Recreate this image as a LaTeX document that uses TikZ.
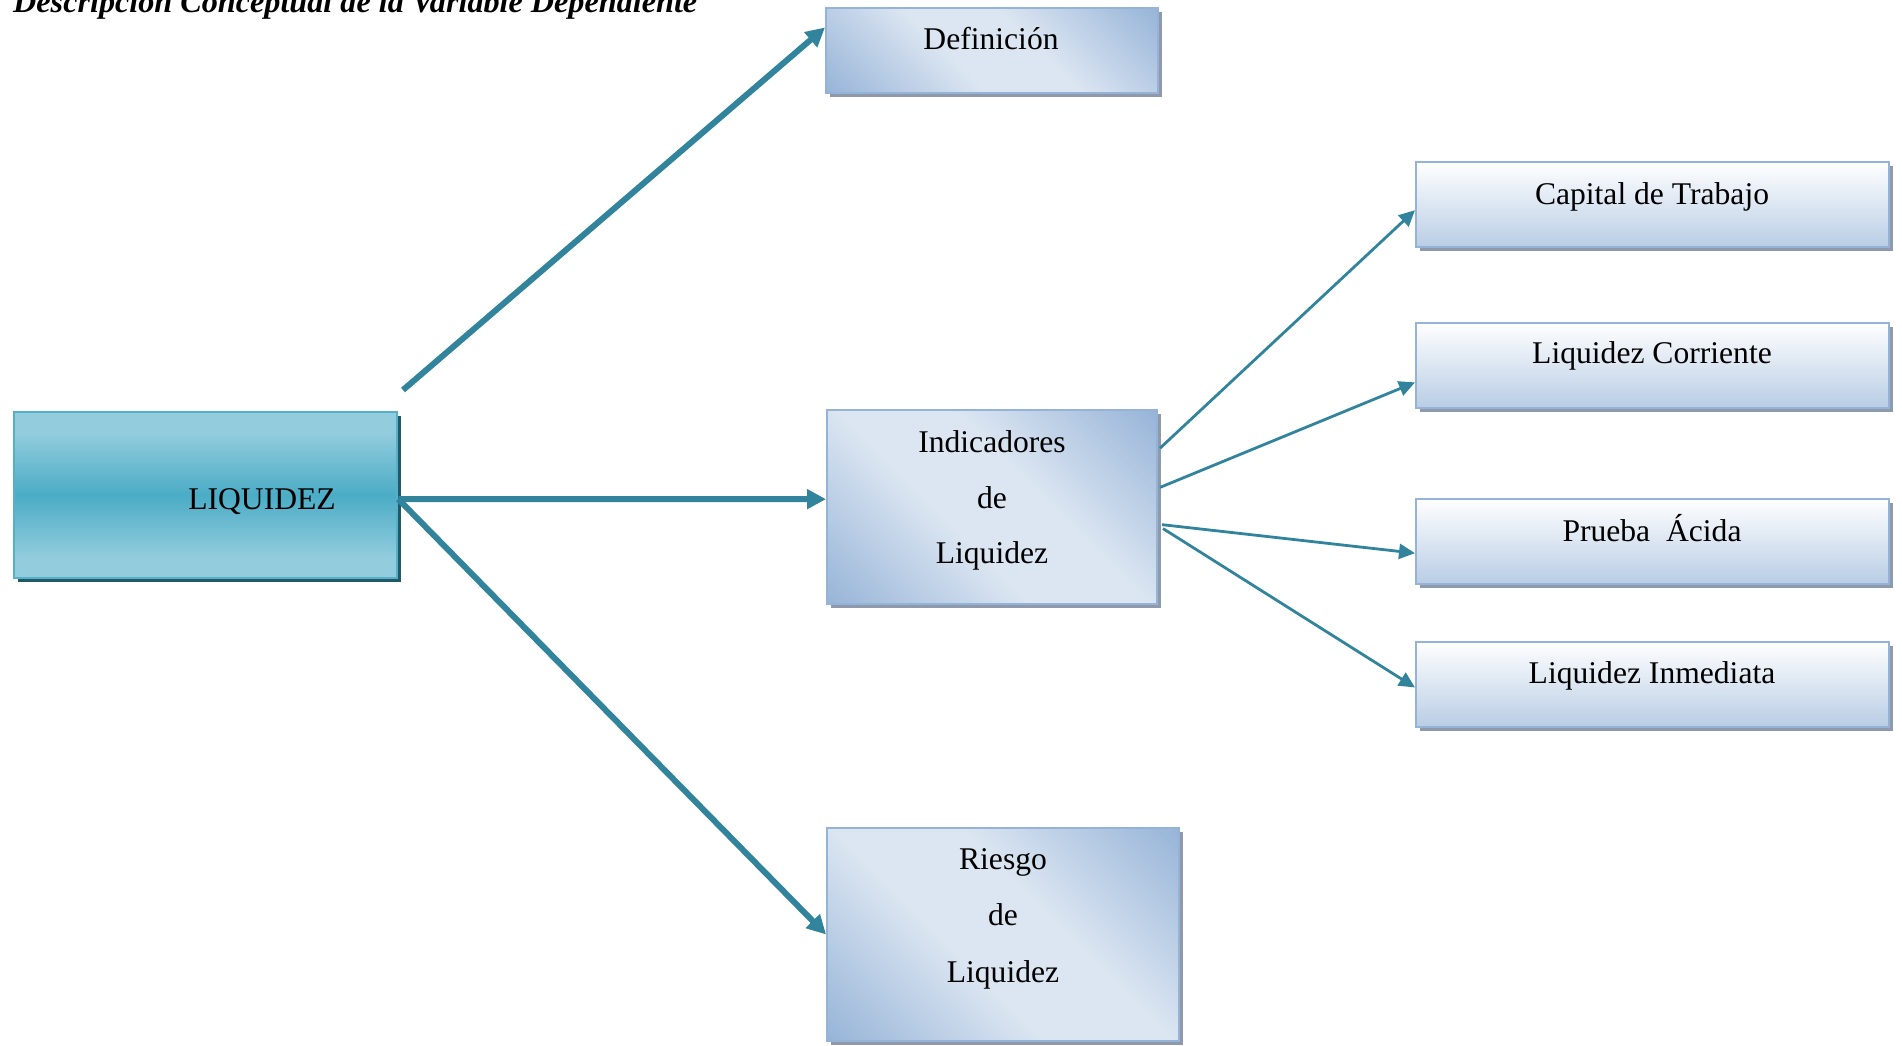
\documentclass[tikz,border=0pt]{standalone}
\usepackage{fontspec}
\setmainfont{Liberation Serif}
\usetikzlibrary{arrows.meta,calc}

\definecolor{arrowcol}{HTML}{31849B}
\definecolor{bluedark}{HTML}{95B3D7}
\definecolor{bluelight}{HTML}{DCE6F2}
\definecolor{blueedge}{HTML}{95B3D7}
\definecolor{rboxbottom}{HTML}{B9CDE5}
\definecolor{greyshadow}{HTML}{8E99AB}
\definecolor{aquatop}{HTML}{93CDDD}
\definecolor{aquamid}{HTML}{4BACC6}
\definecolor{aquaedge}{HTML}{55B1CA}
\definecolor{aquashadow}{HTML}{215968}

% diagonal blue fill: dark corners, wide light band through the middle
\pgfdeclareverticalshading{diagblue}{100bp}{color(0bp)=(bluedark); color(14bp)=(bluedark);
  color(42bp)=(bluelight); color(58bp)=(bluelight); color(86bp)=(bluedark); color(100bp)=(bluedark)}
% aqua fill: light top and bottom, darker band in the middle
\pgfdeclareverticalshading{aquaband}{100bp}{color(0bp)=(aquatop); color(31bp)=(aquatop);
  color(50bp)=(aquamid); color(69bp)=(aquatop); color(100bp)=(aquatop)}

\tikzset{
  boxshadow/.style={preaction={fill=#1, transform canvas={shift={(4,4)}}}},
  basebox/.style={rectangle, inner sep=0pt, line width=2pt},
  diagbox/.style={basebox, draw=blueedge, boxshadow=greyshadow,
    shade, shading=diagblue, shading angle=-45},
  sidebox/.style={basebox, draw=blueedge, boxshadow=greyshadow,
    top color=white, bottom color=rboxbottom,
    minimum width=473pt, minimum height=85pt},
  mainbox/.style={basebox, draw=aquaedge, line width=2.5pt, boxshadow=aquashadow,
    shade, shading=aquaband},
  lbl/.style={inner sep=0pt, anchor=base, font=\fontsize{31.6}{38}\selectfont},
  bigarrow/.style={draw=arrowcol, line width=6pt, -{Triangle[length=19pt,width=19pt]}},
  smallarrow/.style={draw=arrowcol, line width=2.8pt, -{Triangle[length=16pt,width=15pt]}}
}

\begin{document}
\begin{tikzpicture}[x=1pt,y=-1pt]
\useasboundingbox (0,0) rectangle (1902,1045);
\clip (0,0) rectangle (1902,1045);

% heading, partly above the top edge
\node[inner sep=0pt, anchor=base west] (title) at (13,12)
  {\resizebox{684pt}{\height}{\fontsize{32}{34}\selectfont\bfseries\itshape Descripción Conceptual de la Variable Dependiente}};

% main concept
\node[mainbox, minimum width=383pt, minimum height=166pt] (liq) at (205.5,495) {};
\node[lbl] (liq-t) at (262,509) {LIQUIDEZ};

% second level
\node[diagbox, minimum width=332pt, minimum height=85pt] (def) at (992,50.5) {};
\node[lbl] (def-t) at (991,49) {Definición};

\node[diagbox, minimum width=330pt, minimum height=194pt] (ind) at (992,507) {};
\node[lbl] (ind-a) at (992,452) {Indicadores};
\node[lbl] (ind-b) at (992,508) {de};
\node[lbl] (ind-c) at (992,563) {Liquidez};

\node[diagbox, minimum width=352pt, minimum height=213pt] (ries) at (1003,934.5) {};
\node[lbl] (ries-a) at (1003,869) {Riesgo};
\node[lbl] (ries-b) at (1003,925) {de};
\node[lbl] (ries-c) at (1003,982) {Liquidez};

% indicators
\node[sidebox] (cap) at (1652.5,204.5) {};
\node[lbl] (cap-t) at (1652,204) {Capital de Trabajo};
\node[sidebox] (corr) at (1652.5,365) {};
\node[lbl] (corr-t) at (1652,363) {Liquidez Corriente};
\node[sidebox] (acid) at (1652.5,541) {};
\node[lbl] (acid-t) at (1652,541) {Prueba\ \ Ácida};
\node[sidebox] (inm) at (1652.5,684) {};
\node[lbl] (inm-t) at (1652,683) {Liquidez Inmediata};

% connectors from the main concept
\coordinate (liq-up) at (403,390);
\draw[bigarrow] (liq-up) -- ($(def.north west)!0.235!(def.south west)$);
\draw[bigarrow] ($(liq.east)+(0,4)$) -- ($(ind.north west)!0.46!(ind.south west)$);
\draw[bigarrow] ($(liq.east)+(0,4)$) -- (ries.west);

% connectors to the indicators
\draw[smallarrow] ($(ind.north east)!0.20!(ind.south east)+(2,0)$) -- ($(cap.north west)!0.565!(cap.south west)$);
\draw[smallarrow] ($(ind.north east)!0.40!(ind.south east)+(2,0)$) -- ($(corr.north west)!0.70!(corr.south west)$);
\draw[smallarrow] ($(ind.north east)!0.59!(ind.south east)+(4,0)$) -- ($(acid.north west)!0.64!(acid.south west)$);
\draw[smallarrow] ($(ind.north east)!0.61!(ind.south east)+(5,0)$) -- ($(inm.north west)!0.54!(inm.south west)$);
\end{tikzpicture}
\end{document}
